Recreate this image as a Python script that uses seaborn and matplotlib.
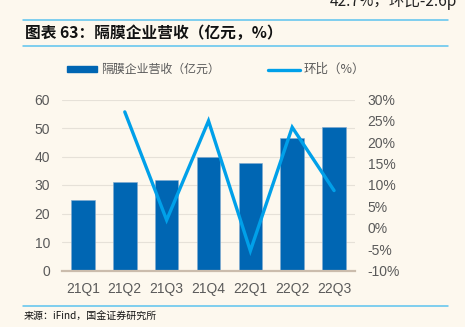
import numpy as np
import pandas as pd
import matplotlib
matplotlib.use("Agg")
import matplotlib.pyplot as plt
from matplotlib.patches import Rectangle
from matplotlib.lines import Line2D
from matplotlib.ticker import FuncFormatter, MultipleLocator
import seaborn as sns

# Separator-company revenue by quarter (100 million yuan) and QoQ growth (%)
quarters = ["21Q1", "21Q2", "21Q3", "21Q4", "22Q1", "22Q2", "22Q3"]
revenue = [24.7, 31.2, 31.8, 39.7, 37.6, 46.4, 50.5]
qoq_quarters = ["21Q2", "21Q3", "21Q4", "22Q1", "22Q2", "22Q3"]
qoq = [27.1, 1.8, 25.0, -5.4, 23.5, 8.7]

title = "图表 63：隔膜企业营收（亿元，%）"
bar_label = "隔膜企业营收（亿元）"
line_label = "环比（%）"
source = "来源：iFind，国金证券研究所"
header = "42.7%，环比-2.6p"

BG = "#FDF8EE"
BAR = "#0066B3"
LINE = "#00A0E9"
RULE = "#5CC3EE"
TICK = "#5A5A5A"

sns.set_theme(style="white")
plt.rcParams["font.family"] = ["Liberation Sans", "Noto Sans CJK SC", "DejaVu Sans"]
cjk = ["Noto Sans CJK SC", "DejaVu Sans"]

W, H = 465, 327
fig = plt.figure(figsize=(W / 100, H / 100), dpi=100, facecolor=BG)


def fx(px):
    return px / W


def fy(py):
    return 1 - py / H


ax = fig.add_axes([fx(62), fy(270.5), fx(355) - fx(62), fy(99.5) - fy(270.5)])
ax.set_facecolor(BG)

df = pd.DataFrame({"quarter": quarters, "revenue": revenue})
sns.barplot(data=df, x="quarter", y="revenue", color=BAR, saturation=1,
            width=0.56, ax=ax, zorder=2)
for p in ax.patches:
    p.set_edgecolor("#7FA9CF")
    p.set_linewidth(0.4)

ax.set_ylim(0, 60)
ax.set_xlim(-0.5, len(quarters) - 0.5)
ax.yaxis.set_major_locator(MultipleLocator(10))
ax.grid(axis="y", color="#E6E1D8", linewidth=0.8, zorder=0)
ax.set_axisbelow(True)
ax.set_xlabel("")
ax.set_ylabel("")
for s in ["top", "right", "left"]:
    ax.spines[s].set_visible(False)
ax.spines["bottom"].set_color("#CBBCAC")
ax.spines["bottom"].set_linewidth(1.6)
ax.spines["bottom"].set_zorder(5)
ax.tick_params(axis="y", length=0, pad=8.5, labelsize=10, labelcolor=TICK)
ax.tick_params(axis="x", length=0, pad=8, labelsize=10, labelcolor=TICK)

ax2 = ax.twinx()
qoq_pos = [quarters.index(q) for q in qoq_quarters]
sns.lineplot(x=qoq_pos, y=qoq, ax=ax2, color=LINE, linewidth=2.4,
             solid_capstyle="round", solid_joinstyle="miter", zorder=3)
ax2.set_ylim(-10, 30)
ax2.yaxis.set_major_locator(MultipleLocator(5))
ax2.yaxis.set_major_formatter(FuncFormatter(lambda v, _: f"{v:.0f}%"))
ax2.tick_params(axis="y", length=0, pad=9, labelsize=10, labelcolor=TICK)
ax2.grid(False)
for s in ["top", "right", "left", "bottom"]:
    ax2.spines[s].set_visible(False)
ax2.set_ylabel("")

# Legend row
fig.patches.append(Rectangle((fx(67), fy(72)), fx(97) - fx(67), fy(66) - fy(72),
                             transform=fig.transFigure, color=BAR, zorder=5))
fig.text(fx(101), fy(69.5), bar_label, family=cjk, fontsize=8.6, color=TICK,
         va="center", ha="left")
fig.lines.append(Line2D([fx(268), fx(300)], [fy(69.5), fy(69.5)],
                        transform=fig.transFigure, color=LINE, linewidth=2.4))
fig.text(fx(304), fy(69.5), line_label, family=cjk, fontsize=9, color=TICK,
         va="center", ha="left")

# Header, title rules and source
fig.text(fx(330), fy(1), header, family=cjk, fontsize=11.2, color="#222222",
         va="center", ha="left")
for y in (20, 46, 306):
    fig.lines.append(Line2D([fx(23), fx(448)], [fy(y), fy(y)],
                            transform=fig.transFigure, color=RULE, linewidth=1.1))
fig.text(fx(25), fy(33), title, family=cjk, fontsize=11.3, fontweight="bold",
         color="#111111", va="center", ha="left")
fig.text(fx(24), fy(316.5), source, family=cjk, fontsize=7.2, color="#111111",
         va="center", ha="left")

fig.savefig("out.png", dpi=100, facecolor=BG)
